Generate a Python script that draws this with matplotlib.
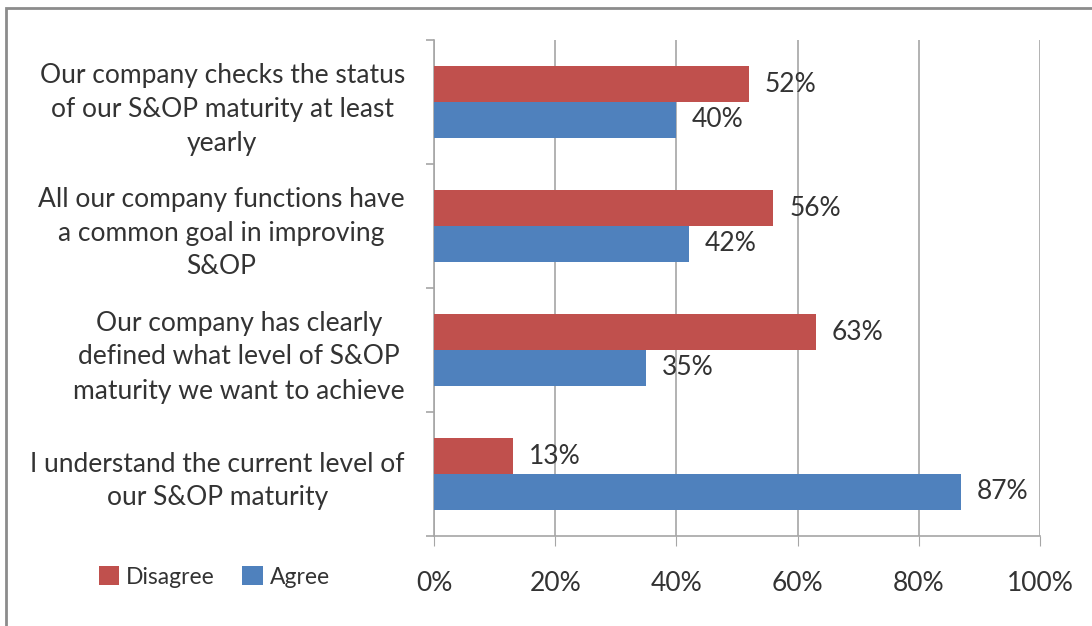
import matplotlib
matplotlib.use("Agg")
import matplotlib.pyplot as plt
from matplotlib.patches import Rectangle
import numpy as np

categories = [
    "Our company checks the status\nof our S&OP maturity at least\nyearly",
    "All our company functions have\na common goal in improving\nS&OP",
    "Our company has clearly\ndefined what level of S&OP\nmaturity we want to achieve",
    "I understand the current level of\nour S&OP maturity",
]
disagree = [52, 56, 63, 13]
agree = [40, 42, 35, 87]
xticks = [0, 20, 40, 60, 80, 100]
xtick_labels = ["0%", "20%", "40%", "60%", "80%", "100%"]

RED = "#C0504D"
BLUE = "#4F81BD"
GRID = "#A6A6A6"
TXT = "#333333"
plt.rcParams['font.family'] = ['Lato', 'DejaVu Sans']

fig = plt.figure(figsize=(10.92, 6.26), dpi=100)
fig.patches.append(Rectangle((6/1092, -0.01), 1.1, 1 - 8/626 + 0.01, transform=fig.transFigure,
                             fill=False, edgecolor="#8C8C8C", linewidth=2.0))
ax = fig.add_axes([434/1092, 1 - 536/626, 606/1092, 496/626])

n = len(categories)
ypos = np.arange(n)[::-1]  # top category first
h = 0.29
ax.barh(ypos + h/2, disagree, height=h, color=RED, label="Disagree", zorder=3)
ax.barh(ypos - h/2, agree, height=h, color=BLUE, label="Agree", zorder=3)

fs = 19
for y, d, a in zip(ypos, disagree, agree):
    ax.text(d + 2.6, y + h/2, f"{d}%", va="center", ha="left", fontsize=fs, color=TXT)
    ax.text(a + 2.6, y - h/2, f"{a}%", va="center", ha="left", fontsize=fs, color=TXT)

ax.set_xlim(0, 100)
ax.set_ylim(-0.5, n - 0.5)
ax.set_xticks(xticks)
ax.set_xticklabels(xtick_labels, fontsize=fs, color=TXT)
ax.tick_params(axis="x", length=7, color=GRID, pad=18)
ax.xaxis.grid(True, color=GRID, linewidth=1.2, zorder=0)

ax.set_yticks(ypos)
ax.set_yticklabels(categories, fontsize=fs, color=TXT, multialignment="center", linespacing=1.45)
ax.tick_params(axis="y", length=0, pad=21)
# boundary ticks on y axis
ax.set_yticks(np.arange(-0.5, n, 1.0), minor=True)
ax.tick_params(axis="y", which="minor", length=6, color=GRID, width=1.2)

for s in ["top", "right"]:
    ax.spines[s].set_visible(False)
ax.spines["left"].set_color(GRID)
ax.spines["bottom"].set_color(GRID)
ax.spines["left"].set_linewidth(1.2)
ax.spines["bottom"].set_linewidth(1.2)

handles, labels = ax.get_legend_handles_labels()
fig.legend(handles, labels, loc="center left", bbox_to_anchor=(78/1092, 1 - 577/626),
           ncol=2, frameon=False, fontsize=16.5, handlelength=0.9, handleheight=0.9,
           handletextpad=0.3, columnspacing=1.2, labelcolor=TXT)

fig.savefig("out.png", dpi=100)
